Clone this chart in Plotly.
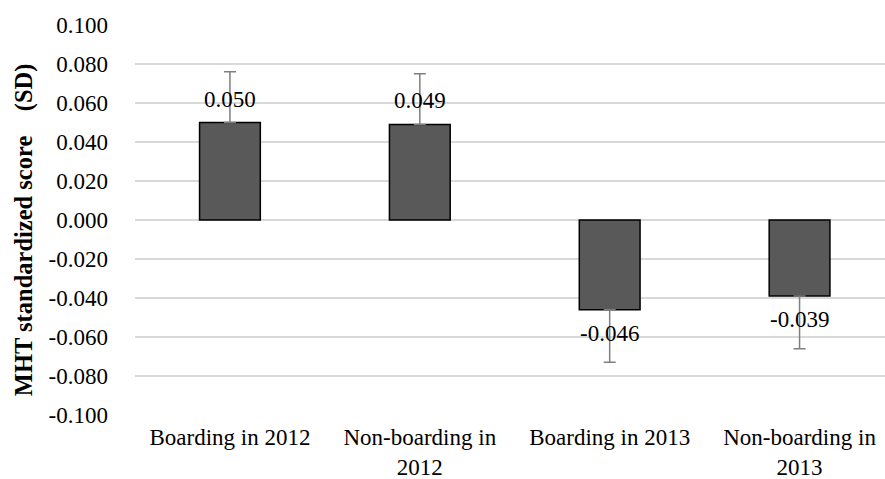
import plotly.graph_objects as go

categories = ["Boarding in 2012", "Non-boarding in<br>2012", "Boarding in 2013", "Non-boarding in<br>2013"]
scores = [0.050, 0.049, -0.046, -0.039]
errors = [0.026, 0.026, 0.027, 0.027]
y_ticks = [-0.1, -0.08, -0.06, -0.04, -0.02, 0.0, 0.02, 0.04, 0.06, 0.08, 0.1]

FONT = "Liberation Serif"

x_idx = list(range(len(categories)))
err_plus = [e if v >= 0 else 0 for v, e in zip(scores, errors)]
err_minus = [e if v < 0 else 0 for v, e in zip(scores, errors)]

fig = go.Figure()
fig.add_trace(go.Bar(
    x=x_idx,
    y=scores,
    width=0.32,
    marker=dict(color="#595959", line=dict(color="#000000", width=1.5)),
    error_y=dict(type="data", symmetric=False, array=err_plus, arrayminus=err_minus,
                 color="#7f7f7f", thickness=1.5, width=6),
    showlegend=False,
))

for i, v in enumerate(scores):
    fig.add_annotation(
        x=i, y=v, text=f"{v:.3f}", showarrow=False,
        yanchor="bottom" if v >= 0 else "top",
        yshift=9 if v >= 0 else -9,
        font=dict(family=FONT, size=23, color="#000000"),
    )

fig.add_annotation(
    xref="paper", yref="paper", x=-111 / 750, y=0.474,
    text="MHT standardized score\u00a0\u00a0\u00a0 (SD)", textangle=-90,
    showarrow=False, xanchor="center", yanchor="middle",
    font=dict(family=FONT, size=24.5, color="#000000", weight="bold"),
)

fig.update_layout(
    width=885, height=479,
    margin=dict(l=135, r=0, t=25, b=64),
    paper_bgcolor="white", plot_bgcolor="white",
    font=dict(family=FONT, size=23, color="#000000"),
)
fig.update_xaxes(
    range=[-0.5, 3.45],
    tickmode="array", tickvals=x_idx, ticktext=categories,
    showgrid=False, zeroline=False, showline=False,
    ticklabelstandoff=6, automargin=False,
    tickfont=dict(family=FONT, size=23),
)
fig.update_yaxes(
    range=[-0.1, 0.1],
    tickmode="array", tickvals=y_ticks, ticktext=[f"{t:.3f}" for t in y_ticks],
    showgrid=True, gridcolor="#d9d9d9", gridwidth=1.5,
    zeroline=True, zerolinecolor="#d9d9d9", zerolinewidth=1.5,
    showline=False, ticklabelstandoff=26, automargin=False,
    tickfont=dict(family=FONT, size=23),
)

fig.write_html("out.html")
